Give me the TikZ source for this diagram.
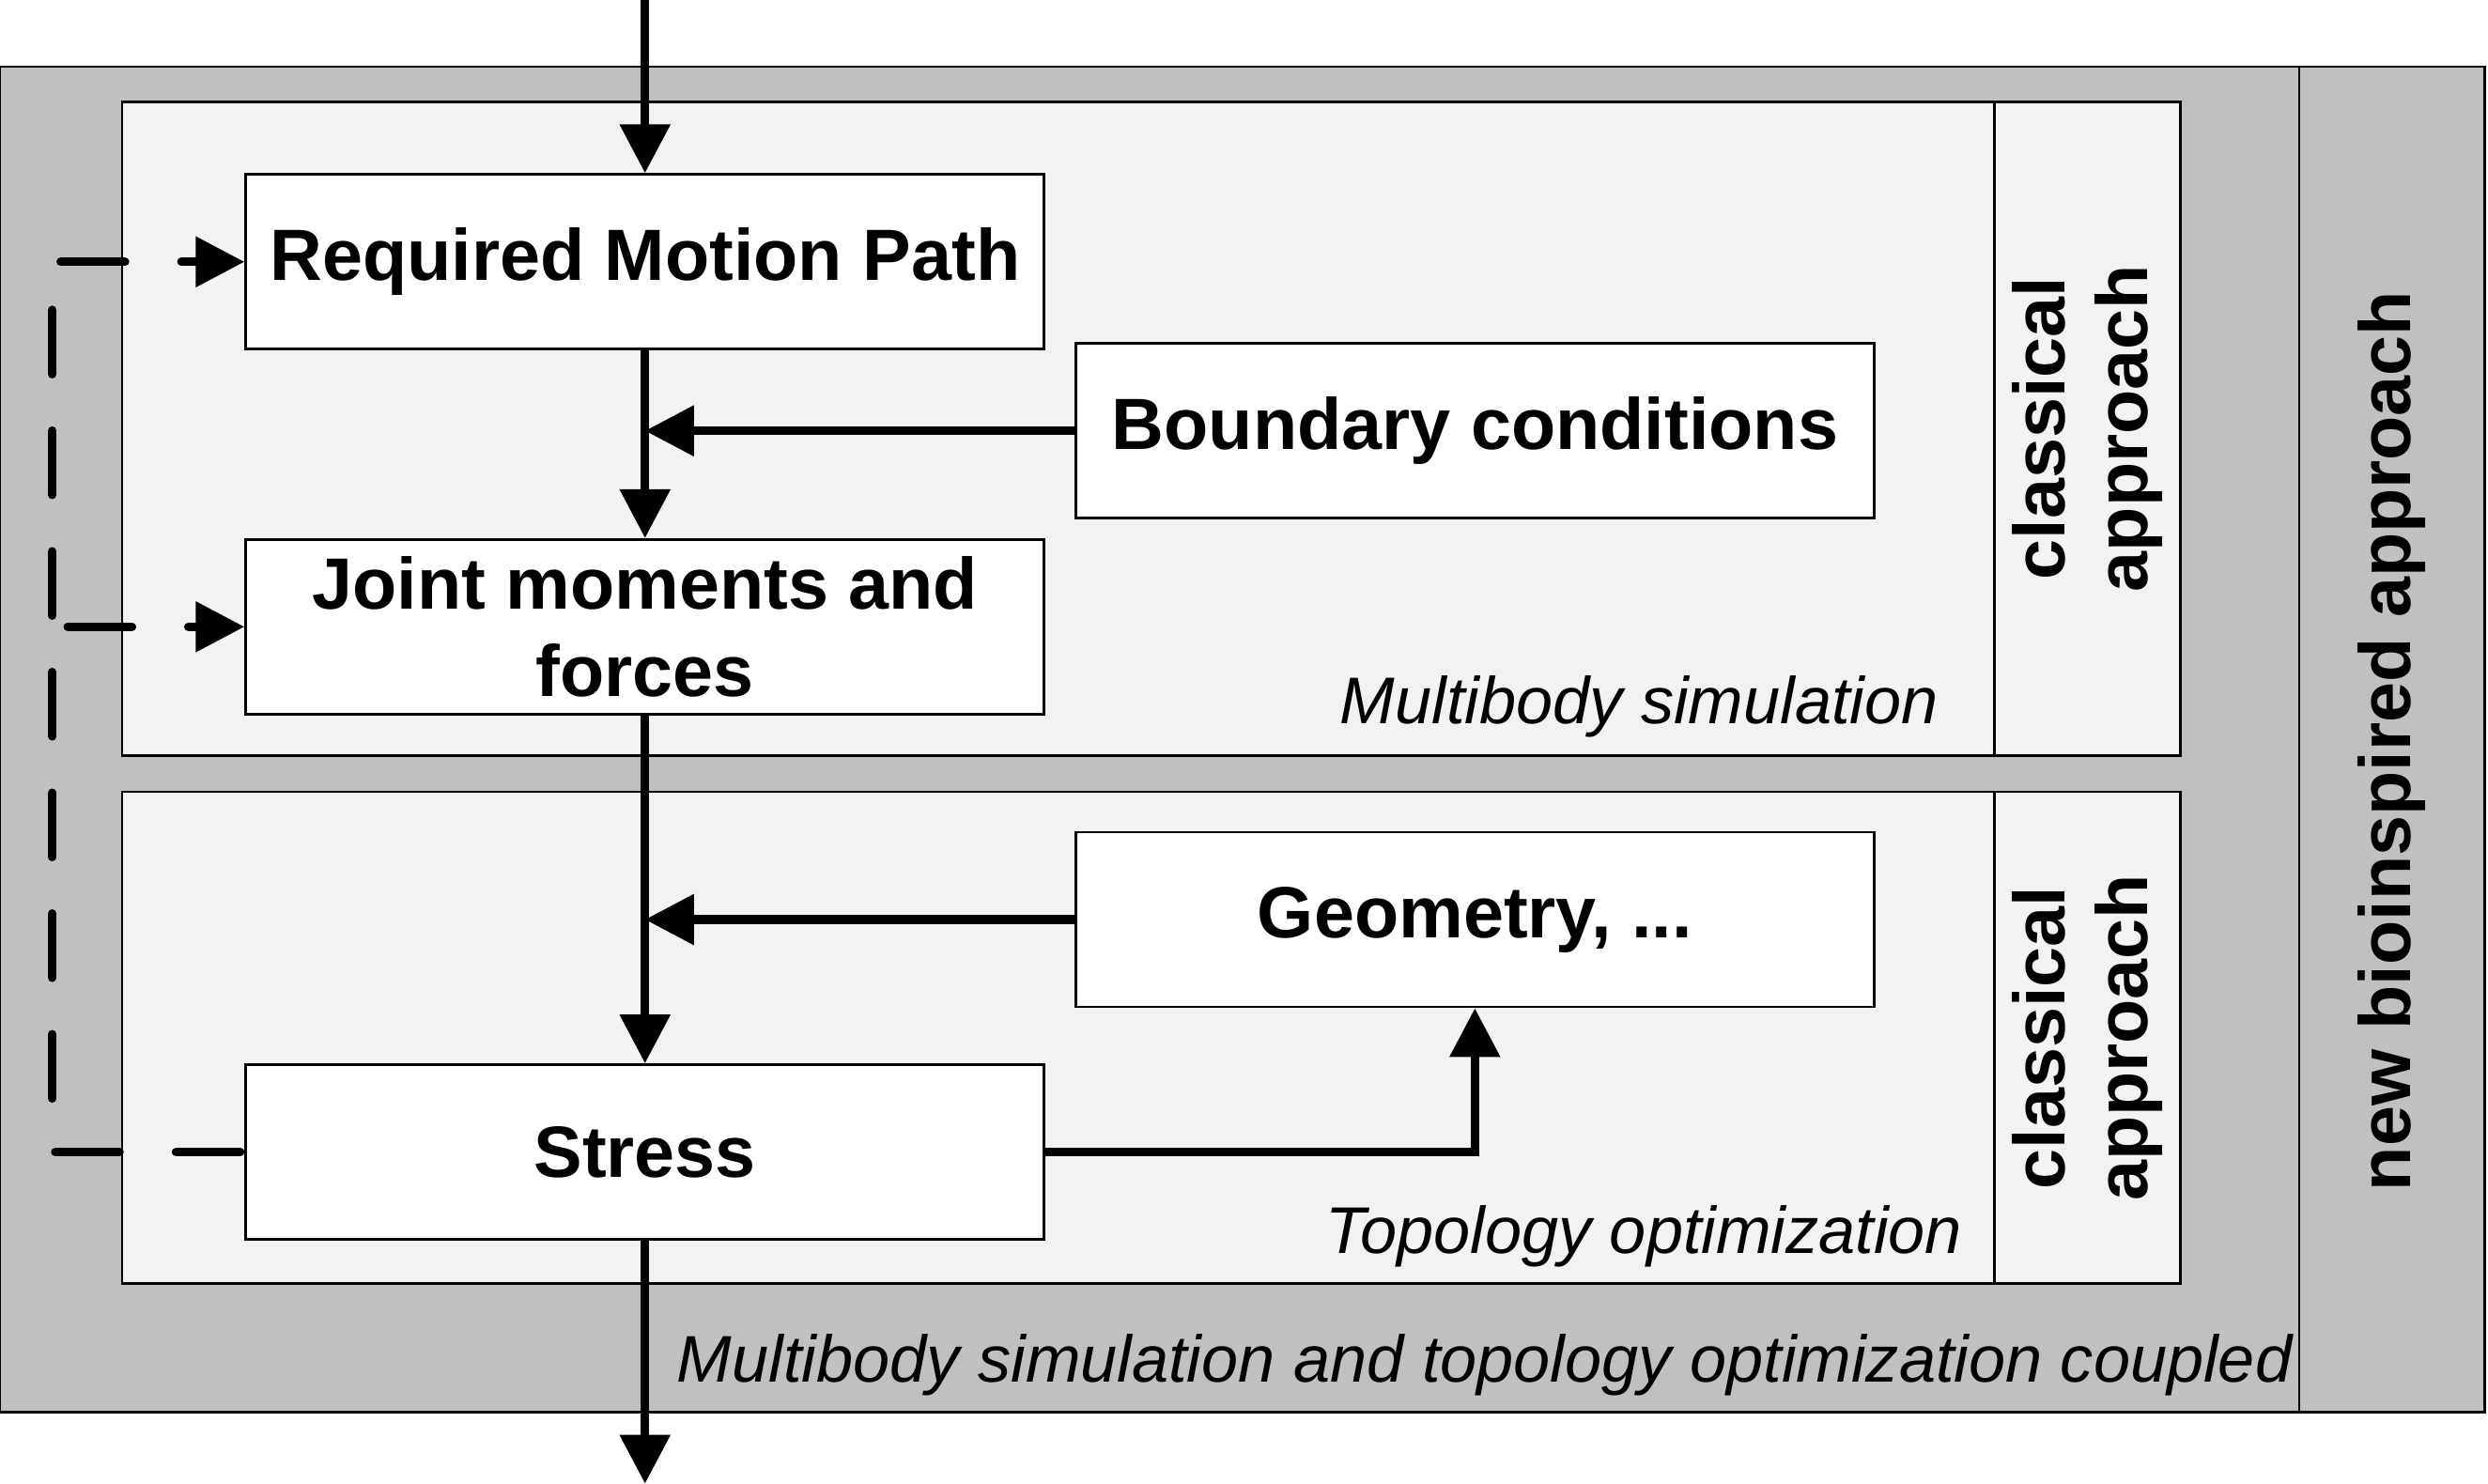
\documentclass[tikz,border=0pt]{standalone}
\usepackage{fontspec}
\setmainfont{Liberation Sans}
\usetikzlibrary{arrows.meta}
\definecolor{outergray}{RGB}{192,192,192}
\definecolor{panelgray}{RGB}{242,242,242}

\begin{document}
\begin{tikzpicture}[x=0.016894cm,y=-0.016894cm,
        box/.style={draw,line width=0.8pt,fill=white,minimum width=8.5cm,minimum height=1.86cm,inner sep=0pt,align=center,font=\fontsize{22}{26.4}\selectfont\bfseries},
        panel/.style={draw,line width=0.8pt,fill=panelgray},
        side/.style={rotate=90,align=center,font=\fontsize{22}{25}\selectfont\bfseries},
        label/.style={font=\fontsize{20}{24}\selectfont\itshape,inner sep=0pt},
        flow/.style={line width=2.6pt,-{Triangle[length=0.52cm,width=0.52cm]}},
        back/.style={line width=2.6pt,line cap=round,dash pattern=on 0.684cm off 0.601cm,dash phase=1.240cm,-{Triangle[length=0.52cm,width=0.52cm]}}]
        \useasboundingbox (0,0) rectangle (1568,935);
        % frames
        \draw[line width=0.8pt,fill=outergray] (0,42) rectangle (1566,890);
        \draw[line width=0.8pt] (1449,42) -- (1449,890);
        \draw[panel] (77,64) rectangle (1374,476);
        \draw[line width=0.8pt] (1257,64) -- (1257,476);
        \draw[panel] (77,499) rectangle (1374,809);
        \draw[line width=0.8pt] (1257,499) -- (1257,809);
        % labels of the frames
        \node[side] (clsA) at (1315.5,270) {classical\\approach};
        \node[side] (clsB) at (1315.5,654) {classical\\approach};
        \node[side] (bio) at (1507.5,467) {new bioinspired approach};
        \node[label,anchor=base east] (mbs) at (1222,456) {Multibody simulation};
        \node[label,anchor=base east] (topo) at (1237,790) {Topology optimization};
        \node[label,anchor=base east] (coupled) at (1445,871) {Multibody simulation and topology optimization coupled};
        % blocks
        \node[box] (rmp) at (406.5,165) {Required Motion Path};
        \node[box] (bc) at (929.5,271.5) {Boundary conditions};
        \node[box] (joint) at (406.5,395) {Joint moments and\\forces};
        \node[box] (geo) at (929.5,579.5) {Geometry, ...};
        \node[box] (stress) at (406.5,726) {Stress};
        \coordinate (in) at (406.5,0);
        \coordinate (out) at (406.5,935);
        \coordinate (loop) at (33,726);
        \coordinate (loopB) at (40,395);
        % connectors
        \draw[flow] (in) -- (rmp.north);
        \draw[flow] (rmp.south) -- (joint.north);
        \draw[flow] (bc.west) -- (bc.west -| rmp.south);
        \draw[flow] (joint.south) -- (stress.north);
        \draw[flow] (geo.west) -- (geo.west -| joint.south);
        \draw[flow] (stress.east) -| (geo.south);
        \draw[flow] (stress.south) -- (out);
        \draw[back] (stress.west) -- (loop) |- (rmp.west);
        \draw[back] (loopB) -- (joint.west);
\end{tikzpicture}
\end{document}
